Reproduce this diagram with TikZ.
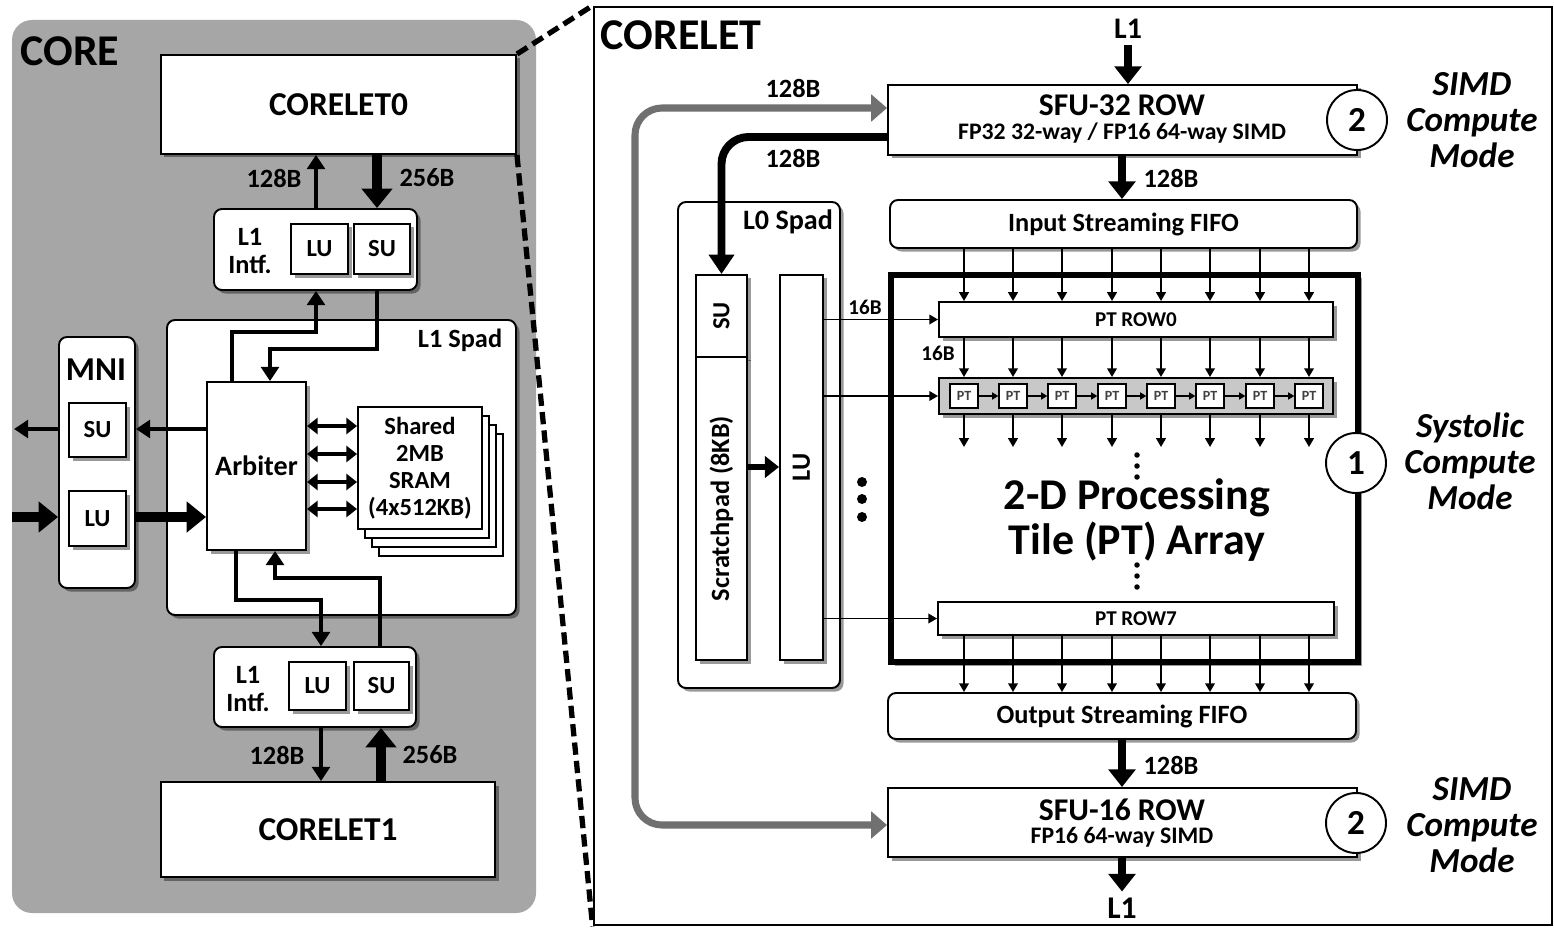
\documentclass[tikz,border=0pt]{standalone}
\usepackage{fontspec}
\usepackage{graphicx}
\setmainfont{Carlito}
\usetikzlibrary{arrows.meta,shadows}
\definecolor{coregray}{RGB}{166,166,166}
\definecolor{arrgray}{RGB}{112,112,112}
\definecolor{tilegray}{RGB}{200,200,200}
\newcommand\bx[7]{\pgfmathsetmacro\bxw{((#4)-(#2))*0.02}\pgfmathsetmacro\bxh{((#5)-(#3))*0.02}%
  \node[#6, minimum width=\bxw cm, minimum height=\bxh cm, inner sep=0pt] (#1) at ({((#2)+(#4))/2},{((#3)+(#5))/2}) {#7};}
\begin{document}
\begin{tikzpicture}[x=0.02cm, y=-0.02cm,
  f/.style 2 args={font=\bfseries\fontsize{#1}{#2}\selectfont},
  box/.style={draw, line width=1.1pt, fill=white},
  rbox/.style={box, rounded corners=0.16cm},
  shad/.style={drop shadow={shadow xshift=0.07cm, shadow yshift=-0.07cm, opacity=0.4, fill=black}},
  tarrow/.style={line width=2.3pt, -{Triangle[length=8pt,width=10pt]}},
  barrow/.style={line width=6pt, -{Triangle[length=11pt,width=17pt]}},
  dblarrow/.style={line width=2.3pt, {Triangle[length=6pt,width=9pt]}-{Triangle[length=6pt,width=9pt]}},
  carrow/.style={line width=1pt, -{Triangle[length=5pt,width=5.5pt]}},
  rarrow/.style={line width=5pt, -{Triangle[length=10pt,width=15pt]}},
  karrow/.style={line width=4.5pt, -{Triangle[length=11pt,width=14pt]}},
  garrow/.style={line width=4pt, draw=arrgray, {Triangle[length=9pt,width=15pt]}-{Triangle[length=9pt,width=15pt]}},
  zoomdash/.style={line width=3pt, dash pattern=on 7pt off 3.5pt},
  circ/.style={circle, draw, line width=1.1pt, fill=white, minimum size=1.2cm, inner sep=0pt, f={20}{22}},
  mode/.style={align=center, font=\bfseries\itshape\fontsize{20}{20.5}\selectfont},
  ptile/.style={draw, line width=0.8pt, fill=white, minimum width=0.56cm, minimum height=0.48cm, inner sep=0pt, font=\bfseries\fontsize{8}{9}\selectfont, text=black!75},
  lbl/.style={f={15}{17}},
  slbl/.style={f={12}{14}}]
\useasboundingbox (0,0) rectangle (1554,929);
\fill[white] (0,0) rectangle (1554,929);

% ================= CORE =================
\fill[coregray, rounded corners=0.4cm] (12,20) rectangle (536,913);
\node[f={25}{27}] (coreT) at (70,51) {CORE};
\bx{c0}{161}{55}{516}{154}{box, shad, f={19}{21}}{CORELET0}
\bx{it}{214}{209}{417}{290}{rbox, shad}{}
\node[f={15}{16}, align=center] (itT) at (250,251) {L1\\Intf.};
\bx{itLU}{291}{224}{348}{274}{box, shad, f={14}{15}}{LU}
\bx{itSU}{354}{224}{410}{274}{box, shad, f={14}{15}}{SU}
\bx{spad}{167}{320}{516}{615}{rbox, shad}{}
\node[lbl] (spadT) at (460,340) {L1 Spad};
\bx{mni}{59}{337}{135}{588}{rbox, shad}{}
\node[f={19}{21}] (mniT) at (96,370) {MNI};
\bx{mSU}{69}{403}{126}{457}{box, shad, f={14}{15}}{SU}
\bx{mLU}{69}{491}{126}{546}{box, shad, f={14}{15}}{LU}
\bx{arb}{207}{382}{306}{550}{box, shad, f={16}{18}}{Arbiter}
\foreach \k in {3,2,1}
  \draw[box] ({358+7*\k},{407+9*\k}) rectangle ({482+7*\k},{529+9*\k});
\bx{sram}{358}{407}{482}{529}{box, align=center, f={14}{15.4}}{Shared\\2MB\\SRAM\\(4x512KB)}
\bx{ib}{214}{647}{416}{727}{rbox, shad}{}
\node[f={15}{16}, align=center] (ibT) at (248,689) {L1\\Intf.};
\bx{ibLU}{289}{662}{346}{710}{box, shad, f={14}{15}}{LU}
\bx{ibSU}{354}{662}{409}{710}{box, shad, f={14}{15}}{SU}
\bx{c1}{161}{782}{495}{877}{box, shad, f={19}{21}}{CORELET1}

% core connectors
\draw[tarrow] (it.north -| 316,0) -- (c0.south -| 316,0);
\draw[barrow] (c0.south -| 377,0) -- (it.north -| 377,0);
\node[lbl] (l128a) at (274,178) {128B};
\node[lbl] (l256a) at (427,178) {256B};
\draw[tarrow] (arb.north -| 232,0) |- (316,332) -- (it.south -| 316,0);
\draw[tarrow] (it.south -| 377,0) |- (270,349) -- (arb.north -| 270,0);
\coordinate (outL) at (14,429);
\coordinate (inL) at (12,517);
\draw[tarrow] (arb.west |- outL) -- (mni.east |- outL);
\draw[tarrow] (mni.west |- outL) -- (outL);
\draw[barrow] (inL) -- (mni.west |- inL);
\draw[barrow] (mni.east |- inL) -- (arb.west |- inL);
\foreach \yy in {426,454,482,509}
  \draw[dblarrow] (arb.east |- 0,\yy) -- (sram.west |- 0,\yy);
\draw[tarrow] (arb.south -| 236,0) |- (321,600) -- (ib.north -| 321,0);
\draw[tarrow] (ib.north -| 380,0) |- (275,578) -- (arb.south -| 275,0);
\draw[tarrow] (ib.south -| 321,0) -- (c1.north -| 321,0);
\draw[barrow] (c1.north -| 381,0) -- (ib.south -| 381,0);
\node[lbl] (l128b) at (277,755) {128B};
\node[lbl] (l256b) at (430,755) {256B};

% ================= CORELET =================
\bx{cl}{594}{7}{1552}{925}{draw, line width=1.6pt, fill=white}{}
\draw[zoomdash] (c0.north east) -- (cl.north west);
\draw[zoomdash] (c0.south east) -- (cl.south west);
\node[f={25}{27}] (clT) at (681,35) {CORELET};

\bx{sfu32}{888}{85}{1357}{155}{box, shad}{}
\node[f={18}{20}] (sfu32a) at (1122,105) {SFU-32 ROW};
\node[f={13.5}{15}] (sfu32b) at (1122,133) {FP32 32-way / FP16 64-way SIMD};
\node[f={17}{19}] (l1top) at (1128,29) {L1};
\draw[rarrow] (l1top.south) -- (sfu32.north -| l1top.south);
\node[circ] (k2a) at (1357,120) {2};
\node[mode] (m2a) at (1472,120) {SIMD\\Compute\\Mode};

\bx{fin}{890}{200}{1357}{248}{rbox, shad, f={15}{17}}{Input Streaming FIFO}
\draw[rarrow] (sfu32.south -| 1122,0) -- (fin.north -| 1122,0);
\node[lbl] (l128c) at (1171,178) {128B};

\bx{l0}{678}{202}{840}{688}{rbox, shad}{}
\node[f={16}{18}] (l0T) at (788,222) {L0 Spad};
\bx{l0su}{696}{275}{747}{357}{box, shad, f={14}{15}}{\rotatebox{90}{SU}}
\bx{scr}{696}{357}{747}{660}{box, shad, f={15}{17}}{\rotatebox{90}{Scratchpad (8KB)}}
\bx{l0lu}{780}{275}{823}{660}{box, shad, f={15}{17}}{\rotatebox{90}{LU}}
\draw[line width=3.5pt, -{Triangle[length=8pt,width=12pt]}] (scr.east |- 0,467) -- (l0lu.west |- 0,467);
\foreach \yy in {482,499,517} \fill (862,\yy) circle[radius=0.1cm];

\draw[karrow, rounded corners=0.54cm] ([yshift=-0.34cm]sfu32.west) -| (l0su.north);
\node[lbl] (l128d) at (793,88) {128B};
\node[lbl] (l128e) at (793,158) {128B};

\bx{pta}{891}{275}{1358}{662}{draw, line width=3pt, fill=white, shad}{}
\bx{row0}{939}{302}{1333}{337}{box, shad, slbl}{PT ROW0}
\bx{tiles}{939}{378}{1333}{414}{box, fill=tilegray, shad}{}
\foreach \i/\x in {1/964,2/1013,3/1062,4/1112,5/1161,6/1210,7/1260,8/1309}
  \node[ptile] (pt\i) at (\x,396) {PT};
\foreach \i/\j in {1/2,2/3,3/4,4/5,5/6,6/7,7/8}
  \draw[line width=0.8pt, -{Triangle[length=3.5pt,width=4pt]}] (pt\i.east) -- (pt\j.west);
\bx{row7}{938}{602}{1334}{635}{box, shad, slbl}{PT ROW7}
\node[f={25}{26}, align=center] (ptaT) at (1137,520) {2-D Processing\\Tile (PT) Array};
\foreach \yy in {455,466,477,565,576,587} \fill (1137,\yy) circle[radius=0.055cm];
\node[circ] (k1) at (1356,463) {1};
\node[mode] (m1) at (1470,461) {Systolic\\Compute\\Mode};

\bx{fout}{888}{693}{1356}{739}{rbox, shad, f={15}{17}}{Output Streaming FIFO}

\foreach \x in {964,1013,1062,1112,1161,1210,1260,1309} {
  \draw[carrow] (fin.south -| \x,0) -- (row0.north -| \x,0);
  \draw[carrow] (row0.south -| \x,0) -- (tiles.north -| \x,0);
  \draw[carrow] (tiles.south -| \x,0) -- (\x,447);
  \draw[carrow] (row7.south -| \x,0) -- (fout.north -| \x,0);
}
\draw[carrow] (l0lu.east |- row0.west) -- (row0.west);
\draw[carrow] (l0lu.east |- tiles.west) -- (tiles.west);
\draw[carrow] (l0lu.east |- row7.west) -- (row7.west);
\node[slbl] (l16a) at (865,307) {16B};
\node[slbl] (l16b) at (938,353) {16B};

\bx{sfu16}{888}{788}{1357}{857}{box, shad}{}
\node[f={18}{20}] (sfu16a) at (1122,810) {SFU-16 ROW};
\node[f={13.5}{15}] (sfu16b) at (1122,837) {FP16 64-way SIMD};
\draw[rarrow] (fout.south -| 1122,0) -- (sfu16.north -| 1122,0);
\node[lbl] (l128f) at (1171,765) {128B};
\node[circ] (k2b) at (1356,823) {2};
\node[mode] (m2b) at (1472,825) {SIMD\\Compute\\Mode};
\node[f={18}{20}] (l1bot) at (1122,908) {L1};
\draw[rarrow] (sfu16.south -| l1bot.north) -- (l1bot.north);

\draw[garrow, rounded corners=0.54cm] ([yshift=0.24cm]sfu32.west) -- (635,108) -- (635,825) -- (sfu16.west |- 0,825);
\end{tikzpicture}
\end{document}
